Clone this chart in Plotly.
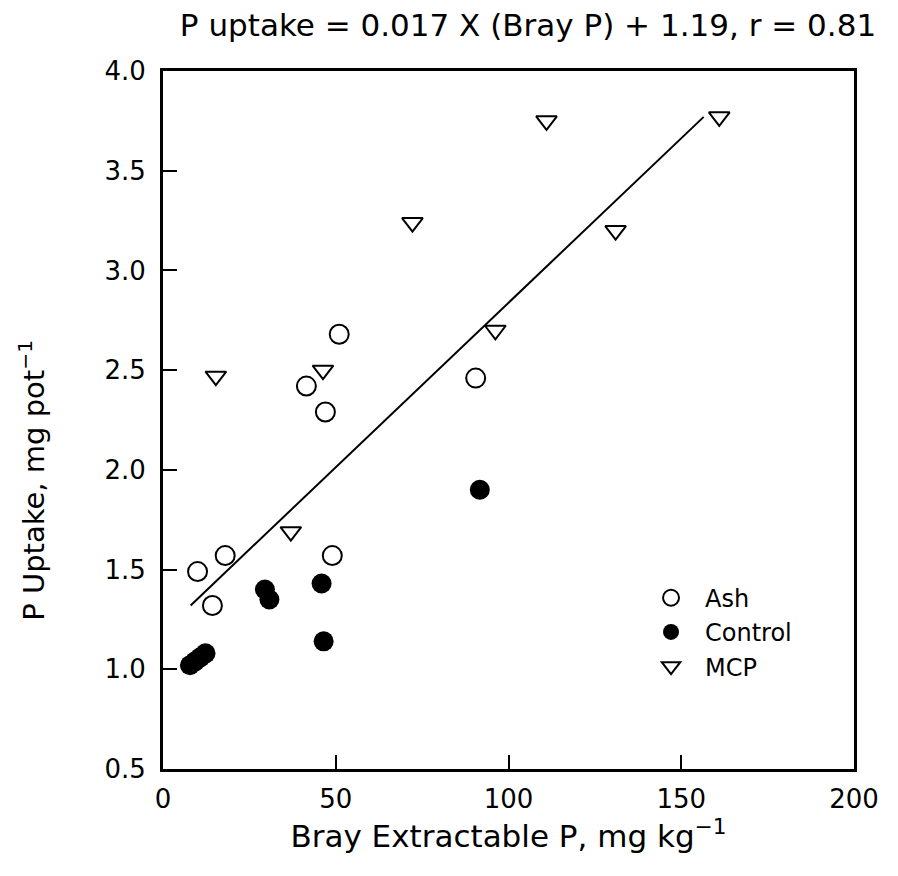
""" P uptake against Bray extractable P, with the fitted regression line.
"""
import plotly

# values
ash_x = [10, 14.3, 18, 41.5, 47, 49, 51, 90.5]
ash_y = [1.49, 1.32, 1.57, 2.42, 2.29, 1.57, 2.68, 2.46]

control_x = [7.8, 9.3, 10.8, 12.3, 29.5, 30.8, 45.9, 46.5, 91.7]
control_y = [1.02, 1.04, 1.06, 1.08, 1.40, 1.35, 1.43, 1.14, 1.90]

mcp_x = [15.3, 37, 46.3, 72.2, 96.2, 111, 131, 161]
mcp_y = [2.47, 1.69, 2.50, 3.24, 2.70, 3.75, 3.20, 3.77]

# end points of the regression line as drawn
fit_x = [8, 156.5]
fit_y = [1.32, 3.77]

x_ticks = [0, 50, 100, 150, 200]
y_ticks = [0.5, 1.0, 1.5, 2.0, 2.5, 3.0, 3.5, 4.0]

FONT = 'DejaVu Sans'

traces = [
    plotly.graph_objs.Scatter(
        x=fit_x, y=fit_y, mode='lines',
        line=dict(color='black', width=2),
        showlegend=False, hoverinfo='skip'),
    plotly.graph_objs.Scatter(
        x=ash_x, y=ash_y, mode='markers', name='Ash',
        marker=dict(symbol='circle-open', size=19, color='black',
                    line=dict(width=2, color='black'))),
    plotly.graph_objs.Scatter(
        x=control_x, y=control_y, mode='markers', name='Control',
        marker=dict(symbol='circle', size=20, color='black',
                    line=dict(width=0))),
    plotly.graph_objs.Scatter(
        x=mcp_x, y=mcp_y, mode='markers', name='MCP',
        marker=dict(symbol='triangle-down-open', size=18, color='black',
                    line=dict(width=2, color='black'))),
]

axis_common = dict(
    showgrid=False,
    zeroline=False,
    showline=True,
    linecolor='black',
    linewidth=3,
    mirror=True,
    ticks='inside',
    ticklen=14,
    tickwidth=2,
    tickcolor='black',
    tickfont=dict(family=FONT, size=26, color='black'),
    automargin=False,
)

# the page body adds an 8px offset, so the figure is a little smaller than the window
layout = plotly.graph_objs.Layout(
    width=890,
    height=868,
    margin=dict(l=155, r=44, t=63, b=107),
    paper_bgcolor='white',
    plot_bgcolor='white',
    font=dict(family=FONT, size=26, color='black'),
    title=dict(
        text='P uptake = 0.017 X (Bray P) + 1.19, r = 0.81',
        font=dict(family=FONT, size=31, color='black'),
        xref='container', x=520 / 890, xanchor='center',
        yref='container', y=1 - 17 / 868, yanchor='middle',
    ),
    xaxis=dict(
        axis_common,
        range=[0, 200],
        tickvals=x_ticks,
        ticktext=[str(v) for v in x_ticks],
        ticklabelstandoff=5,
        title=dict(text='Bray Extractable P, mg kg<sup>−1</sup>',
                   font=dict(family=FONT, size=31), standoff=13),
    ),
    yaxis=dict(
        axis_common,
        range=[0.5, 4.0],
        tickvals=y_ticks,
        ticktext=['%.1f' % v for v in y_ticks],
        ticklabelstandoff=9,
    ),
    # y title sits below the middle of the axis in the original, so place it by hand
    annotations=[
        dict(
            text='P Uptake, mg pot<sup>−1</sup>',
            font=dict(family=FONT, size=29, color='black'),
            textangle=-90,
            xref='paper', x=-0.19, xanchor='center',
            yref='paper', y=0.414, yanchor='middle',
            showarrow=False,
        ),
    ],
    legend=dict(
        x=0.686, y=0.277, xanchor='left', yanchor='top',
        bgcolor='rgba(0,0,0,0)',
        font=dict(family=FONT, size=24, color='black'),
        itemsizing='trace',
        itemwidth=58,
    ),
    showlegend=True,
    hovermode='closest',
)

fig = plotly.graph_objs.Figure(data=traces, layout=layout)
fig.write_html("out.html")
